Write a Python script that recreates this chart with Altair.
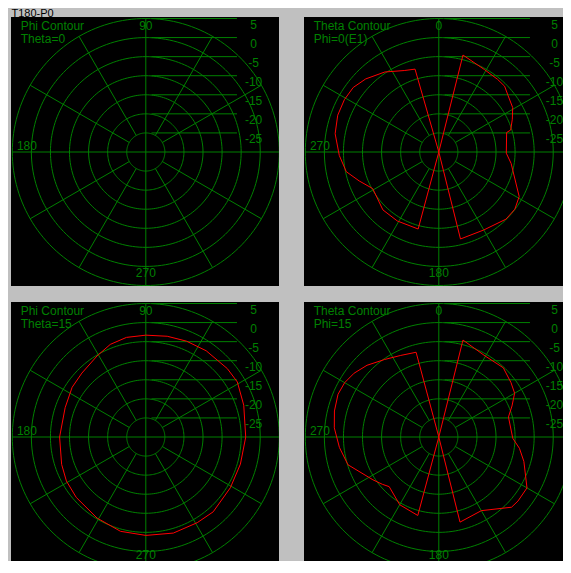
import altair as alt
import pandas as pd

# ---------------- data ----------------
TITLE = "T180-P0"
LEVELS = [5, 0, -5, -10, -15, -20, -25]
LEVEL_LABELS = ["5", "0", "-5", "-10", "-15", "-20", "-25"]
SPOKES = [0, 30, 60, 90, 120, 150, 180, 210, 240, 270, 300, 330]
FLOOR = -30

PHI_ANGLE_LABELS = ["90", "180", "270"]      # top, left, bottom
THETA_ANGLE_LABELS = ["0", "270", "180"]     # top, left, bottom

TL_TITLE = ["Phi Contour", "Theta=0"]
TR_TITLE = ["Theta Contour", "Phi=0(E1)"]
BL_TITLE = ["Phi Contour", "Theta=15"]
BR_TITLE = ["Theta Contour", "Phi=15"]

# Theta contour, Phi=0 (E1)
tr_theta = [0, 14, 29, 39, 45, 51, 59, 66, 73, 74, 91, 99, 119, 127, 135, 150, 166,
            180, 195, 211, 224, 241, 250, 258, 268, 280, 290, 299, 307, 315, 326, 337, 344, 360]
tr_db = [-30, -3.8, -5.3, -5.5, -5.6, -6.6, -7.4, -8.9, -10.3, -11.5, -12.3, -10.8, -5.9, -5.05, -5.1, -6.4, -6.5,
         -30, -9.1, -8.9, -8.9, -10.2, -7.8, -5.2, -3.9, -2.4, -1.8, -1.7, -1.9, -2.9, -4.7, -6.8, -7.4, -30]

# Theta contour, Phi=15
br_theta = [0, 14, 29, 43, 53, 60, 67, 74, 91, 98, 106, 120, 129, 134, 150, 166,
            180, 195, 210, 225, 230, 237, 253, 264, 275, 284, 293, 300, 307, 315, 325, 335, 345, 360]
br_db = [-30, -3.8, -5.5, -5.2, -6.3, -7.05, -9.15, -11.0, -10.6, -8.65, -6.8, -3.3, -3.3, -3.5, -7.7, -7.0,
         -30, -8.7, -9.5, -11.6, -10.7, -9.4, -5.1, -3.8, -2.5, -1.8, -1.3, -1.5, -2.2, -3.4, -5.2, -6.4, -7.0, -30]

# Phi contour, Theta=15
bl_phi = [0, 18, 31, 40, 55, 67, 78, 90, 101, 111, 121, 135, 146, 160, 180, 198, 209, 221,
          239, 255, 270, 286, 301, 312, 329, 344, 360]
bl_db = [-3.8, -3.0, -2.0, -2.1, -2.4, -2.7, -3.0, -3.3, -3.4, -4.0, -5.2, -6.3, -6.7, -7.5, -7.4, -6.8, -6.2, -5.85,
         -5.2, -4.4, -4.2, -3.8, -3.8, -3.6, -4.15, -4.2, -3.8]

# ---------------- style / layout ----------------
GREEN = "#008000"
RED = "#ff0000"
FONT = "Liberation Sans"
R_PX = 133.5              # outer ring radius, px
K = R_PX / 35.0           # px per dB
CX = 134.8                # circle centre from panel left, px
CY = 135.0                # circle centre from panel top, px
RING_STEP = 2             # sampling of the grid rings, degrees


def panel(w, h, titles, angle_labels, contour=None, kind="phi", label_x=28.26,
          bottom_y=-32.8, extra=None):
    xs = alt.Scale(domain=[-CX / K, (w - CX) / K], nice=False, zero=False)
    ys = alt.Scale(domain=[-(h - CY) / K, CY / K], nice=False, zero=False)
    X = lambda f: alt.X(f, scale=xs, axis=None)
    Y = lambda f: alt.Y(f, scale=ys, axis=None)
    r_in = min(LEVELS) - FLOOR
    r_out = max(LEVELS) - FLOOR

    lv = pd.DataFrame({"level": LEVELS, "label": LEVEL_LABELS})
    ring_rows = pd.DataFrame(
        [(lvl, a) for lvl in LEVELS for a in range(0, 360 + RING_STEP, RING_STEP)],
        columns=["level", "a"],
    )

    circles = alt.Chart(ring_rows).transform_calculate(
        r=f"datum.level - ({FLOOR})",
        x="datum.r*cos(datum.a*PI/180)",
        y="datum.r*sin(datum.a*PI/180)",
    ).mark_line(color=GREEN, strokeWidth=1, clip=True).encode(
        x=X("x:Q"), y=Y("y:Q"), detail="level:N", order="a:Q"
    )

    spokes = alt.Chart(pd.DataFrame({"a": SPOKES})).transform_calculate(
        r0=f"datum.a % 90 == 0 ? 0 : {r_in}",
        x="datum.r0*cos(datum.a*PI/180)",
        y="datum.r0*sin(datum.a*PI/180)",
        x2=f"{r_out}*cos(datum.a*PI/180)",
        y2=f"{r_out}*sin(datum.a*PI/180)",
    ).mark_rule(color=GREEN, strokeWidth=1, clip=True).encode(
        x=X("x:Q"), y=Y("y:Q"), x2="x2:Q", y2="y2:Q"
    )

    lvl_lines = alt.Chart(lv).transform_calculate(
        y=f"datum.level - ({FLOOR})", xa="1.5", xb="23.9"
    ).mark_rule(color=GREEN, strokeWidth=1, clip=True).encode(
        x=X("xa:Q"), x2="xb:Q", y=Y("y:Q")
    )
    lvl_text = alt.Chart(lv).transform_calculate(
        y=f"datum.level - ({FLOOR})", xl=str(label_x)
    ).mark_text(color=GREEN, font=FONT, fontSize=12, align="center",
                baseline="alphabetic", dy=10, clip=True).encode(
        x=X("xl:Q"), y=Y("y:Q"), text="label:N"
    )

    def txt(t, x, y, align):
        return alt.Chart(pd.DataFrame({"t": [t]})).transform_calculate(
            px=str(x), py=str(y)
        ).mark_text(
            color=GREEN, font=FONT, fontSize=12, align=align,
            baseline="alphabetic", clip=True
        ).encode(x=X("px:Q"), y=Y("py:Q"), text="t:N")

    layers = [circles, spokes, lvl_lines, lvl_text,
              txt(angle_labels[0], 0, 32.06, "center"),
              txt(angle_labels[1], -33.8, 0.6, "left"),
              txt(angle_labels[2], 0, bottom_y, "center"),
              txt(titles[0], -32.8, 32.06, "left"),
              txt(titles[1], -32.8, 28.7, "left")]

    if contour is not None:
        ang, db = contour
        if kind == "theta":
            xe = "datum.r*sin(datum.ang*PI/180)"
            ye = "datum.r*cos(datum.ang*PI/180)"
        else:
            xe = "datum.r*cos(datum.ang*PI/180)"
            ye = "datum.r*sin(datum.ang*PI/180)"
        line = alt.Chart(pd.DataFrame({"ang": ang, "db": db})).transform_calculate(
            r=f"max(0, datum.db - ({FLOOR}))", x=xe, y=ye
        ).mark_line(color=RED, strokeWidth=1, clip=True).encode(
            x=X("x:Q"), y=Y("y:Q"), order="ang:Q"
        )
        layers.append(line)

    if extra is not None:
        layers.append(extra)

    return alt.layer(*layers).properties(width=w, height=h)


# window caption, drawn just above the first panel
caption = alt.Chart(pd.DataFrame({"t": [TITLE]})).mark_text(
    color="black", font=FONT, fontSize=11, align="left", baseline="alphabetic"
).encode(x=alt.value(0.5), y=alt.value(0), text="t:N")

TL = panel(268, 269, TL_TITLE, PHI_ANGLE_LABELS, None, "phi", 28.26, extra=caption)
TR = panel(259, 269, TR_TITLE, THETA_ANGLE_LABELS, (tr_theta, tr_db), "theta", 30.33)
BL = panel(268, 259, BL_TITLE, PHI_ANGLE_LABELS, (bl_phi, bl_db), "phi", 28.26, bottom_y=-31.9)
BR = panel(259, 259, BR_TITLE, THETA_ANGLE_LABELS, (br_theta, br_db), "theta", 30.33, bottom_y=-31.9)

chart = alt.vconcat(
    alt.hconcat(TL, TR, spacing=25, bounds="flush"),
    alt.hconcat(BL, BR, spacing=25, bounds="flush"),
    spacing=16,
).properties(
    background="#c0c0c0",
    padding={"left": 3, "top": 0, "right": 0, "bottom": 0},
).configure_view(fill="black", stroke="black", strokeWidth=0)

chart.save("out.html", embed_options={"renderer": "svg", "actions": False})
